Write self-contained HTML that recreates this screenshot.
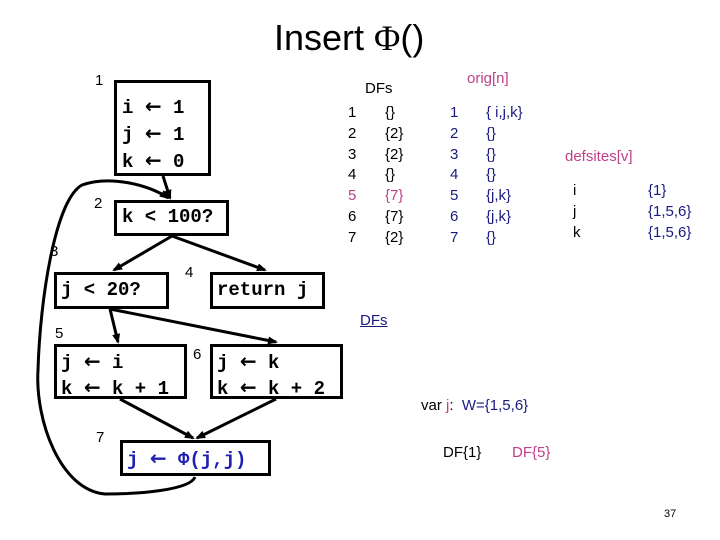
<!DOCTYPE html>
<html><head><meta charset="utf-8"><style>
body{margin:0;width:720px;height:540px;background:#fff;position:relative;overflow:hidden;font-family:"Liberation Sans",sans-serif}
.t{position:absolute;white-space:nowrap;line-height:1}
.m{font-family:"Liberation Mono",monospace;font-size:19px;font-weight:bold;color:#000}
.box{position:absolute;border:3px solid #000;box-sizing:border-box;background:#fff}
.s{font-size:15px}
.n{color:#1a1a80}.p{color:#c0408a}
.ar{font-family:"DejaVu Sans",sans-serif;font-size:20px}
</style></head><body>
<div class="t" style="left:274px;top:20px;font-size:36px">Insert <span style="font-family:'Liberation Serif',serif">Φ</span>()</div>
<svg width="720" height="540" style="position:absolute;left:0;top:0">
<defs><marker id="a" markerUnits="userSpaceOnUse" markerWidth="10" markerHeight="10" refX="8" refY="5" orient="auto"><path d="M0,1L10,5L0,9z" fill="#000"/></marker></defs>
<g stroke="#000" stroke-width="3" fill="none">
<line x1="163" y1="176" x2="170" y2="198" marker-end="url(#a)"/>
<line x1="172" y1="236" x2="114" y2="270" marker-end="url(#a)"/>
<line x1="172" y1="236" x2="265" y2="270" marker-end="url(#a)"/>
<line x1="110" y1="309" x2="118" y2="342" marker-end="url(#a)"/>
<line x1="110" y1="309" x2="276" y2="342" marker-end="url(#a)"/>
<line x1="120" y1="399" x2="193" y2="438" marker-end="url(#a)"/>
<line x1="276" y1="399" x2="197" y2="438" marker-end="url(#a)"/>
<path d="M195,477 C190,490 140,494 105,494 C60,490 35,420 38,370 C40,300 55,200 82,185 C110,175 150,185 168,198" marker-end="url(#a)"/>
</g></svg>
<div class="box" style="left:114px;top:80px;width:97px;height:96px"></div>
<div class="t m" style="left:122px;top:94px;line-height:25px">i <span class="ar">←</span> 1<br>j <span class="ar">←</span> 1<br>k <span class="ar">←</span> 0</div>
<div class="box" style="left:114px;top:200px;width:115px;height:36px"></div>
<div class="t m" style="left:122px;top:208px">k &lt; 100?</div>
<div class="box" style="left:54px;top:272px;width:115px;height:37px"></div>
<div class="t m" style="left:61px;top:281px">j &lt; 20?</div>
<div class="box" style="left:210px;top:272px;width:115px;height:37px"></div>
<div class="t m" style="left:217px;top:281px">return j</div>
<div class="box" style="left:54px;top:344px;width:133px;height:55px"></div>
<div class="t m" style="left:61px;top:349px;line-height:24px">j <span class="ar">←</span> i<br>k <span class="ar">←</span> k + 1</div>
<div class="box" style="left:210px;top:344px;width:133px;height:55px"></div>
<div class="t m" style="left:217px;top:349px;line-height:24px">j <span class="ar">←</span> k<br>k <span class="ar">←</span> k + 2</div>
<div class="box" style="left:120px;top:440px;width:151px;height:36px"></div>
<div class="t m" style="left:127px;top:448px;color:#2020b0">j <span class="ar">←</span> Φ(j,j)</div>
<div class="t s" style="left:95px;top:73px">1</div>
<div class="t s" style="left:94px;top:196px">2</div>
<div class="t s" style="left:50px;top:244px">3</div>
<div class="t s" style="left:185px;top:265px">4</div>
<div class="t s" style="left:55px;top:326px">5</div>
<div class="t s" style="left:193px;top:347px">6</div>
<div class="t s" style="left:96px;top:430px">7</div>
<div class="t s" style="left:365px;top:81px">DFs</div>
<div class="t s" style="left:348px;top:103px;line-height:20.8px">1<br>2<br>3<br>4<br><span class="p">5</span><br>6<br>7</div>
<div class="t s" style="left:385px;top:103px;line-height:20.8px">{}<br>{2}<br>{2}<br>{}<br><span class="p">{7}</span><br>{7}<br>{2}</div>
<div class="t s p" style="left:467px;top:71px">orig[n]</div>
<div class="t s n" style="left:450px;top:103px;line-height:20.8px">1<br>2<br>3<br>4<br>5<br>6<br>7</div>
<div class="t s n" style="left:486px;top:103px;line-height:20.8px">{ i,j,k}<br>{}<br>{}<br>{}<br>{j,k}<br>{j,k}<br>{}</div>
<div class="t s p" style="left:565px;top:149px">defsites[v]</div>
<div class="t s n" style="left:573px;top:181px;line-height:20.8px;color:#000">i<br>j<br>k</div>
<div class="t s n" style="left:648px;top:181px;line-height:20.8px">{1}<br>{1,5,6}<br>{1,5,6}</div>
<div class="t s n" style="left:360px;top:313px;text-decoration:underline">DFs</div>
<div class="t s" style="left:421px;top:398px">var <span class="p">j</span>:&nbsp; <span class="n">W={1,5,6}</span></div>
<div class="t s" style="left:443px;top:445px">DF{1}</div>
<div class="t s p" style="left:512px;top:445px">DF{5}</div>
<div class="t" style="left:664px;top:509px;font-size:11px">37</div>
</body></html>
